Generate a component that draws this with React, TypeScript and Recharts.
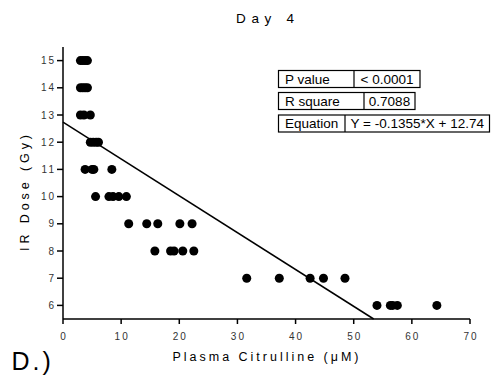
import {
  ScatterChart,
  Scatter,
  XAxis,
  YAxis,
  ZAxis,
  ReferenceLine,
} from 'recharts';

// plasma citrulline (uM) per animal
const citrulline = [
  3.0, 3.4, 3.8, 4.2,
  3.0, 3.4, 3.8, 4.2,
  3.0, 3.6, 4.7,
  4.7, 5.2, 5.7, 6.1,
  3.8, 5.0, 5.3, 8.4,
  5.6, 7.9, 8.6, 9.6, 10.9,
  11.3, 14.4, 16.3, 20.1, 22.2,
  15.8, 18.5, 19.1, 20.6, 22.5,
  31.6, 37.2, 42.5, 44.8, 48.5,
  54.0, 56.3, 56.7, 57.5, 64.3,
];

// IR dose (Gy) per animal
const dose = [
  15, 15, 15, 15,
  14, 14, 14, 14,
  13, 13, 13,
  12, 12, 12, 12,
  11, 11, 11, 11,
  10, 10, 10, 10, 10,
  9, 9, 9, 9, 9,
  8, 8, 8, 8, 8,
  7, 7, 7, 7, 7,
  6, 6, 6, 6, 6,
];

const xTicks = [0, 10, 20, 30, 40, 50, 60, 70];
const yTicks = [6, 7, 8, 9, 10, 11, 12, 13, 14, 15];

const slope = -0.1355;
const intercept = 12.74;
const yMin = 5.5;

const stats = [
  { label: 'P value', value: '< 0.0001' },
  { label: 'R square', value: '0.7088' },
  { label: 'Equation', value: 'Y = -0.1355*X + 12.74' },
];

const points = citrulline.map((x, i) => ({ x, y: dose[i] }));

const font = '"Liberation Sans", Arial, sans-serif';

// results table boxes (px)
const boxes = [
  { y: 70.5, right: 420, split: 354 },
  { y: 92.5, right: 415, split: 364 },
  { y: 115, right: 489.5, split: 345 },
];
const boxLeft = 278.5;
const boxH = 17;

const App = () => {
  const xEnd = (yMin - intercept) / slope;
  const tick = { fill: '#333', fontSize: 10, fontFamily: font, letterSpacing: 2 };
  return (
    <div style={{ position: 'absolute', left: 0, top: 0, width: 496, height: 381, fontFamily: font }}>
      <ScatterChart
        width={496}
        height={381}
        margin={{ top: 47, right: 26, bottom: 32, left: 13 }}
        style={{ fontFamily: font }}
      >
        <XAxis
          type="number"
          dataKey="x"
          domain={[0, 70]}
          ticks={xTicks}
          allowDataOverflow
          height={30}
          stroke="#000"
          strokeWidth={1.5}
          tickSize={5}
          tickMargin={9}
          tick={{ ...tick, dx: 1 }}
        />
        <YAxis
          type="number"
          dataKey="y"
          domain={[5.5, 15.5]}
          ticks={yTicks}
          allowDataOverflow
          width={50}
          stroke="#000"
          strokeWidth={1.5}
          tickSize={6}
          tickMargin={1}
          tick={tick}
        />
        <ZAxis range={[58, 58]} />
        <ReferenceLine
          segment={[
            { x: 0, y: intercept },
            { x: xEnd, y: yMin },
          ]}
          stroke="#000"
          strokeWidth={1.5}
          ifOverflow="visible"
        />
        <Scatter data={points} fill="#000" isAnimationActive={false} />
      </ScatterChart>

      <svg width={496} height={381} style={{ position: 'absolute', left: 0, top: 0, pointerEvents: 'none' }} fontFamily={font}>
        <text x={236} y={23.3} fontSize={13.5} textLength={58} lengthAdjust="spacing" fill="#000">Day 4</text>
        <text transform="translate(28.5,251) rotate(-90)" fontSize={12.5} textLength={116} lengthAdjust="spacing" fill="#000">IR Dose (Gy)</text>
        <text x={172.5} y={360.7} fontSize={12.5} textLength={186} lengthAdjust="spacing" fill="#000">Plasma Citrulline (μM)</text>
        <text x={11.5} y={370} fontSize={25} letterSpacing={3} fill="#000">D.)</text>

        {stats.map((s, i) => {
          const b = boxes[i];
          return (
            <g key={s.label}>
              <rect x={boxLeft} y={b.y} width={b.right - boxLeft} height={boxH} fill="#fff" stroke="#000" strokeWidth={1.2} />
              <line x1={b.split} x2={b.split} y1={b.y} y2={b.y + boxH} stroke="#000" strokeWidth={1.2} />
              <text x={boxLeft + 6.5} y={b.y + 13.3} fontSize={13.5} fill="#000">{s.label}</text>
              <text x={(b.split + b.right) / 2} y={b.y + 13.3} fontSize={13.5} textAnchor="middle" fill="#000">{s.value}</text>
            </g>
          );
        })}
      </svg>
    </div>
  );
};

export default App;
